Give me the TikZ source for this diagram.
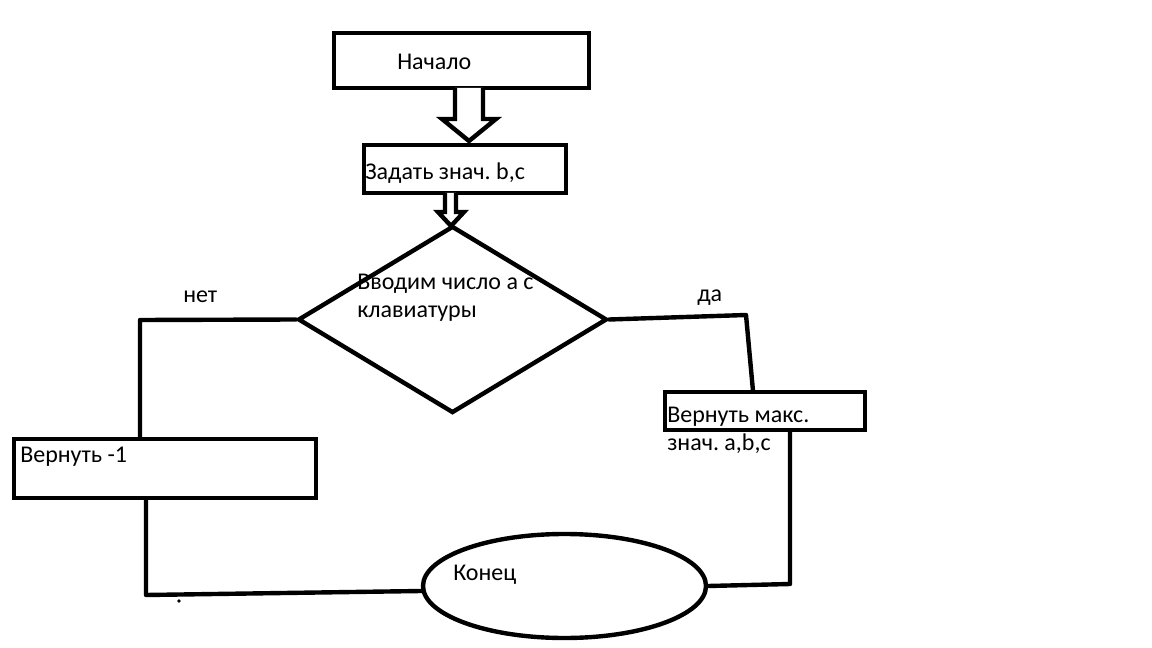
\documentclass[tikz,border=0pt]{standalone}
\usepackage{fontspec}
\setmainfont{Carlito}
\frenchspacing
\usetikzlibrary{shapes.geometric,calc}
\begin{document}
\begin{tikzpicture}[x=0.75pt,y=-0.75pt,
  box/.style={draw=black,line width=3.3pt,rectangle,inner sep=0pt,minimum width=#1},
  lbl/.style={anchor=base west,inner sep=0pt,font=\fontsize{18}{22}\selectfont},
  conn/.style={draw=black,line width=3.3pt,line join=round,line cap=round},
  blockarrow/.style={draw=black,line width=3.3pt,line join=miter,fill=white}]
\useasboundingbox[fill=white] (0,0) rectangle (1152,648);

% boxes
\node[box=191.25pt,minimum height=41.25pt] (s) at (461.5,60.5) {};
\node[box=151.5pt,minimum height=36pt] (z) at (465,169) {};
\node[draw=black,line width=3.3pt,diamond,inner sep=0pt,minimum width=231.75pt,minimum height=140.25pt] (d) at (452.5,319.5) {};
\node[box=226.5pt,minimum height=44.25pt] (r1) at (165,468.5) {};
\node[box=150pt,minimum height=28.5pt] (rm) at (765,411) {};
\node[draw=black,line width=3.3pt,ellipse,inner sep=0pt,minimum width=212.25pt,minimum height=78pt] (e) at (564.5,586) {};

% texts
\node[lbl] (ts) at (397,70) {Начало};
\node[lbl] (tz) at (365,180) {Задать знач. b,c};
\node[lbl] (td1) at (357,290) {Вводим число а с};
\node[lbl] (td2) at (357,318) {клавиатуры};
\node[lbl] (tn) at (183,303) {нет};
\node[lbl] (ty) at (697,302) {да};
\node[lbl] (tr1) at (20,462) {Вернуть -1};
\node[lbl] (trm1) at (667,422) {Вернуть макс.};
\node[lbl] (trm2) at (667,450) {знач. a,b,c};
\node[lbl] (te) at (453,580) {Конец};

% block arrows
\draw[blockarrow] (455,88) -- (455,119) -- (442,119) -- (469,141) -- (496,119) -- (483,119) -- (483,88);
\draw[blockarrow] (445,193) -- (445,212) -- (438,212) -- (451,226) -- (464,212) -- (456,212) -- (456,193);

% connectors
\coordinate (nc) at (140,320);
\draw[conn] (d.west) -- (nc) -- (nc |- r1.north);
\coordinate (ya) at (746,315);
\coordinate (yb) at (753,391);
\draw[conn] (d.east) -- (ya) -- (yb);
\coordinate (lb) at (146,595);
\draw[conn] (lb |- r1.south) -- (lb) -- (e.182);
\coordinate (rb) at (790,584);
\draw[conn] (rb |- rm.south) -- (rb) -- (e.east);
\fill (179,601) circle (1.8);
\end{tikzpicture}
\end{document}
